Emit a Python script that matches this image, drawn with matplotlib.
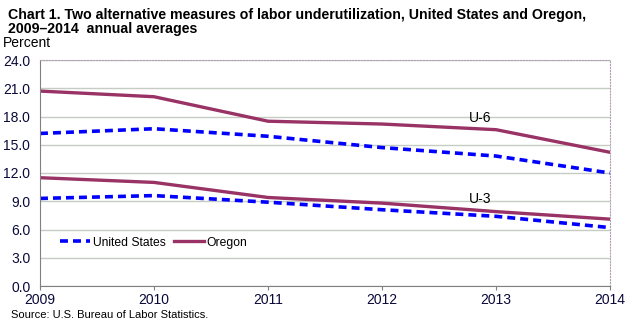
import matplotlib.pyplot as plt

plt.rcParams['font.family'] = ['Liberation Sans', 'DejaVu Sans']

years = [2009, 2010, 2011, 2012, 2013, 2014]
us_u6 = [16.2, 16.7, 15.9, 14.7, 13.8, 12.0]
or_u6 = [20.7, 20.1, 17.5, 17.2, 16.6, 14.2]
us_u3 = [9.3, 9.6, 8.9, 8.1, 7.4, 6.2]
or_u3 = [11.5, 11.0, 9.4, 8.8, 7.9, 7.1]
yticks = [0, 3, 6, 9, 12, 15, 18, 21, 24]

fig = plt.figure(figsize=(6.34, 3.30), dpi=100)
ax = fig.add_axes([40/634, 44/330, 570/634, 226/330])

blue = '#0000FF'
maroon = '#993366'
navy = '#0A0A3A'

ax.plot(years, us_u6, color=blue, lw=2.6, ls=(0, (2.2, 1.4)), label='United States')
ax.plot(years, or_u6, color=maroon, lw=2.4, label='Oregon')
ax.plot(years, us_u3, color=blue, lw=2.6, ls=(0, (2.2, 1.4)))
ax.plot(years, or_u3, color=maroon, lw=2.4)

ax.set_xlim(2009, 2014)
ax.set_ylim(0, 24)
ax.set_yticks(yticks)
ax.set_yticklabels([f'{v:.1f}' for v in yticks])
ax.set_xticks(years)
ax.grid(axis='y', color='#C4CCC4', lw=1)
ax.set_axisbelow(True)
ax.tick_params(labelsize=10, length=3, color='#808080', labelcolor=navy)
ax.tick_params(axis='y', length=0, pad=7)
ax.tick_params(axis='x', pad=2)

for s in ['top', 'right']:
    ax.spines[s].set_color('#B0A0B0')
    ax.spines[s].set_linestyle(':')
for s in ['left', 'bottom']:
    ax.spines[s].set_color('#808080')

ax.text(2012.86, 17.8, 'U-6', fontsize=10, ha='center', va='center')
ax.text(2012.86, 9.2, 'U-3', fontsize=10, ha='center', va='center')

ax.legend(loc='lower left', bbox_to_anchor=(0.035, 0.165), ncol=2, frameon=False,
          fontsize=8.7, handlelength=2.5, handletextpad=0.2, columnspacing=0.7,
          borderpad=0, borderaxespad=0)

fig.text(8/634, 1 - 8/330, 'Chart 1. Two alternative measures of labor underutilization, United States and Oregon,\n2009\u20132014  annual averages',
         fontsize=10.2, fontweight='bold', va='top', linespacing=1.0)
fig.text(3/634, 1 - 43/330, 'Percent', fontsize=10, va='center')
fig.text(11/634, 1 - 315/330, 'Source: U.S. Bureau of Labor Statistics.', fontsize=8, va='center')

fig.savefig('out.png', dpi=100)
